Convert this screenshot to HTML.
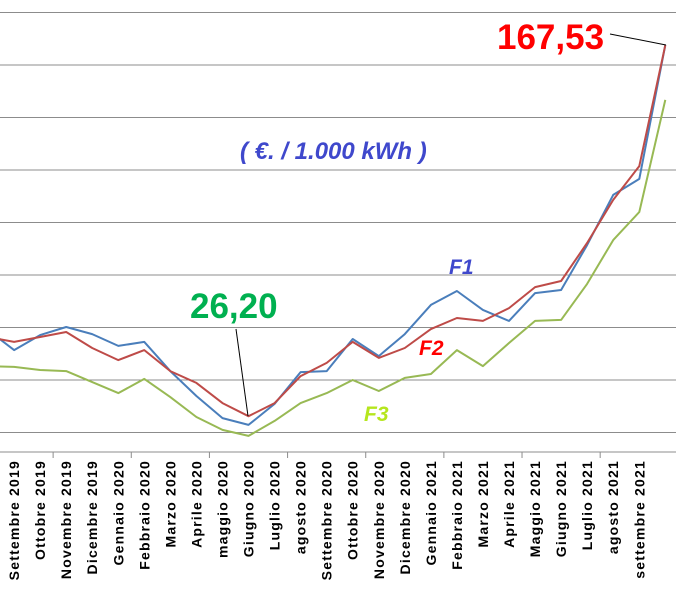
<!DOCTYPE html>
<html><head><meta charset="utf-8"><style>
html,body{margin:0;padding:0;background:#fff;}
svg{display:block;font-family:"Liberation Sans",sans-serif;}
</style></head><body>
<svg id="chart" width="676" height="609" viewBox="0 0 676 609" xmlns="http://www.w3.org/2000/svg">
<g id="grid"></g>
<g id="axis"></g>
<g id="series"></g>
<g id="labels"></g>
<line x1="610" y1="34" x2="666" y2="45" stroke="#000" stroke-width="1"/>
<text x="497" y="49" font-size="35" font-weight="bold" fill="#ff0000">167,53</text>
<line x1="236" y1="329" x2="248" y2="416" stroke="#000" stroke-width="1"/>
<text x="190" y="318" font-size="35" font-weight="bold" fill="#00b050">26,20</text>
<text x="240" y="159" font-size="24" font-weight="bold" font-style="italic" fill="#3f48cc">( €. / 1.000 kWh )</text>
<text x="449" y="274" font-size="21" font-weight="bold" font-style="italic" fill="#3f48cc">F1</text>
<text x="419" y="355" font-size="21" font-weight="bold" font-style="italic" fill="#ff0000">F2</text>
<text x="364" y="421" font-size="21" font-weight="bold" font-style="italic" fill="#b5e61d">F3</text>
</svg>
<script>
const categories=["agosto 2019","Settembre 2019","Ottobre 2019","Novembre 2019","Dicembre 2019","Gennaio 2020","Febbraio 2020","Marzo 2020","Aprile 2020","maggio 2020","Giugno 2020","Luglio 2020","agosto 2020","Settembre 2020","Ottobre 2020","Novembre 2020","Dicembre 2020","Gennaio 2021","Febbraio 2021","Marzo 2021","Aprile 2021","Maggio 2021","Giugno 2021","Luglio 2021","agosto 2021","settembre 2021","ottobre 2021"];
const shownLabels=[false,true,true,true,true,true,true,true,true,true,true,true,true,true,true,true,true,true,true,true,true,true,true,true,true,true,false];
const f1Values=[59.0,51.4,57.1,60.2,57.5,53.0,54.5,43.4,33.9,25.5,22.9,30.9,43.0,43.4,55.6,49.1,57.5,68.6,73.9,66.7,62.5,73.1,74.3,91.4,110.5,116.6,167.6];
const f2Values=[56.4,54.5,56.4,58.3,52.2,47.6,51.4,43.4,38.9,31.2,26.2,31.2,41.5,46.5,54.5,48.4,52.2,59.4,63.6,62.5,67.4,75.4,77.7,92.2,108.6,121.5,167.53];
const f3Values=[45.3,45.0,43.8,43.4,39.2,35.0,40.4,33.5,25.9,21.0,18.7,24.4,31.2,35.0,40.0,35.8,40.8,42.3,51.4,45.3,54.1,62.5,62.9,76.6,93.3,104.0,146.7];
const gridTicks=[20,40,60,80,100,120,140,160,180];

const NS="http://www.w3.org/2000/svg";
function xPos(i){return -12+26.05*i;}
function yPos(v){return 485-2.625*v;}
function mk(tag,attrs,parent){const e=document.createElementNS(NS,tag);for(const k in attrs)e.setAttribute(k,attrs[k]);parent.appendChild(e);return e;}

const grid=document.getElementById('grid');
gridTicks.forEach(t=>{
  const l=mk('line',{x1:0,x2:676,y1:yPos(t),y2:yPos(t),stroke:'#8c8c8c','stroke-width':1},grid);
  
  
});
const axis=document.getElementById('axis');
const al=mk('line',{x1:0,x2:676,y1:452,y2:452,stroke:'#8c8c8c','stroke-width':1},axis);


for(let i=2;i<categories.length;i+=3){
  const x=(xPos(i)+xPos(i+1))/2;
  const tk=mk('line',{x1:x,x2:x,y1:452,y2:458,stroke:'#8c8c8c','stroke-width':1},axis);
  
  
}
const series=document.getElementById('series');
[[f3Values,'#98b954','f3-line'],[f1Values,'#4a7ebb','f1-line'],[f2Values,'#be4b48','f2-line']].forEach(([vals,col,name])=>{
  const pts=vals.map((v,i)=>xPos(i).toFixed(1)+','+yPos(v).toFixed(1)).join(' ');
  const p=mk('polyline',{points:pts,fill:'none',stroke:col,'stroke-width':2,'stroke-linejoin':'round'},series);
  
  
});
const labels=document.getElementById('labels');
categories.forEach((c,i)=>{
  if(!shownLabels[i])return;
  const x=xPos(i)+5;
  const t=mk('text',{x:0,y:0,transform:`translate(${x},460) rotate(-90)`,'text-anchor':'end','font-size':14,'letter-spacing':1.2,'font-weight':'bold',fill:'#000'},labels);
  t.textContent=c;
  
  
});
</script>
</body></html>
